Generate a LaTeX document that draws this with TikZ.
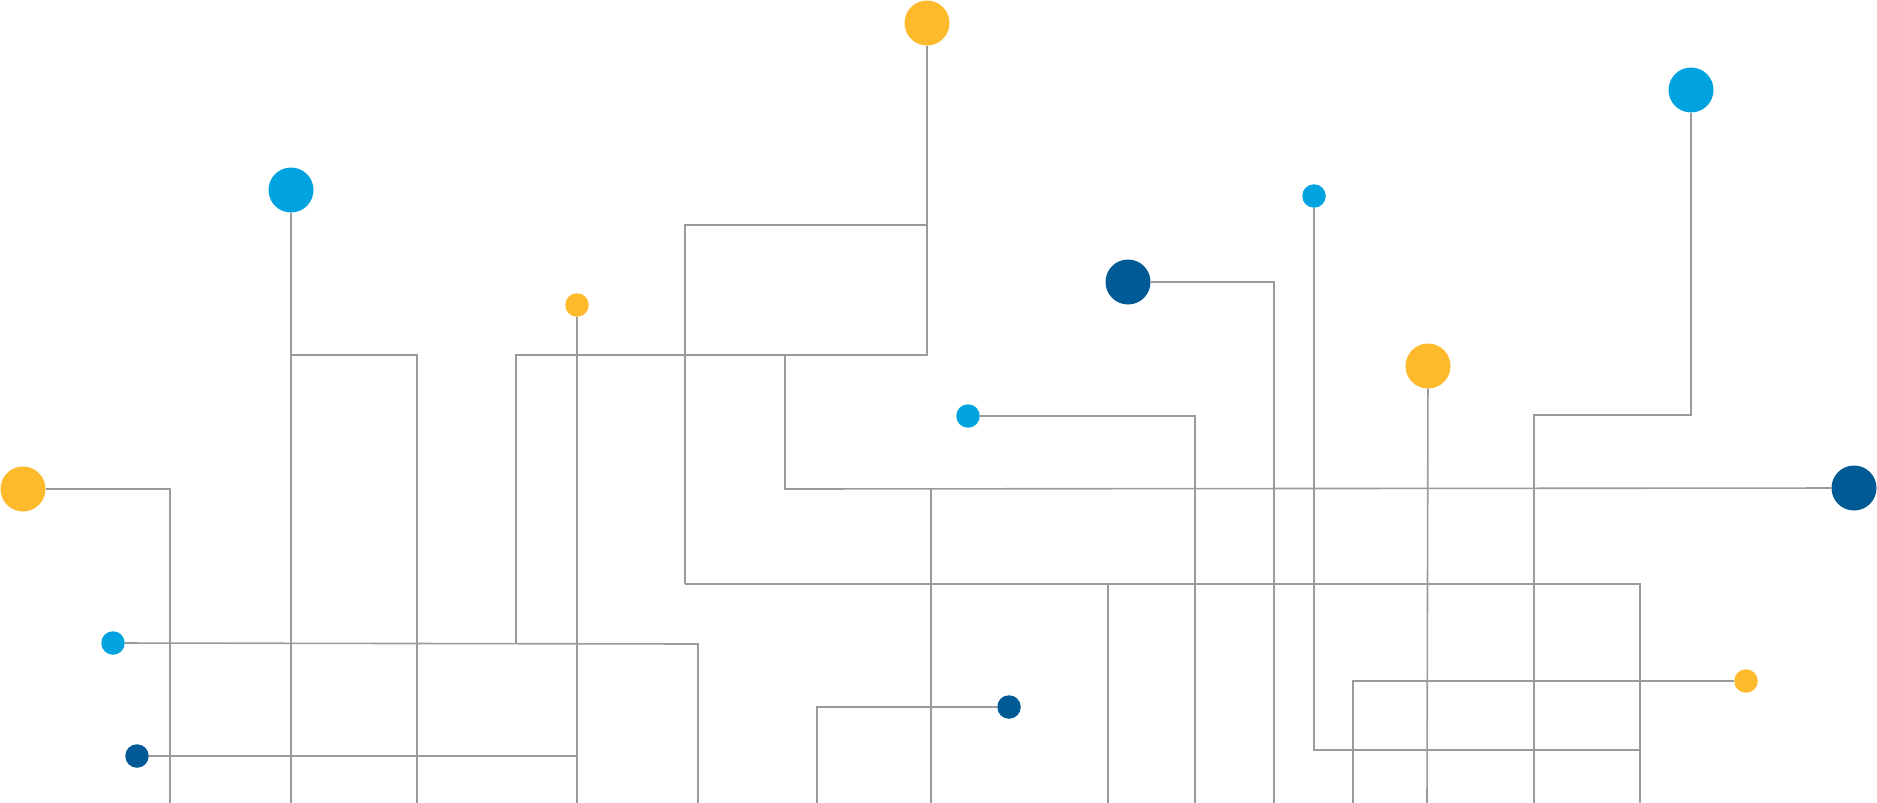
\documentclass[tikz,border=0pt]{standalone}
\definecolor{ylw}{HTML}{FDBA2C}
\definecolor{cyn}{HTML}{00A3DF}
\definecolor{navy}{HTML}{005A96}
\definecolor{wirec}{HTML}{9B9B9B}
\begin{document}
\begin{tikzpicture}[x=1pt,y=-1pt,
  wire/.style={draw=wirec, line width=1.6pt},
  bigdot/.style={circle, inner sep=0pt, minimum size=45pt, draw=none},
  smalldot/.style={circle, inner sep=0pt, minimum size=23.5pt, draw=none}]
\useasboundingbox[fill=white] (0,0) rectangle (1877,803);

% dots
\node[bigdot, fill=ylw]  (yA) at (927,23) {};
\node[bigdot, fill=cyn]  (cB) at (291,190) {};
\node[bigdot, fill=cyn]  (cC) at (1691,90) {};
\node[smalldot, fill=cyn] (cD) at (1314,196) {};
\node[bigdot, fill=navy] (bE) at (1128,282) {};
\node[smalldot, fill=ylw] (yF) at (577,305) {};
\node[bigdot, fill=ylw]  (yG) at (1428,366) {};
\node[smalldot, fill=cyn] (cH) at (968,416) {};
\node[bigdot, fill=ylw]  (yI) at (23,489) {};
\node[bigdot, fill=navy] (bJ) at (1854,488) {};
\node[smalldot, fill=cyn] (cK) at (113,643) {};
\node[smalldot, fill=navy] (bL) at (137,756) {};
\node[smalldot, fill=navy] (bM) at (1009,707) {};
\node[smalldot, fill=ylw] (yN) at (1746,681) {};

% junction coordinates
\coordinate (a1) at (927,355);
\coordinate (a2) at (516,355);
\coordinate (a3) at (516,644);
\coordinate (r1) at (685,584);
\coordinate (r2) at (685,225);
\coordinate (r3) at (927,225);
\coordinate (r4) at (1640,584);
\coordinate (r5) at (1640,803);
\coordinate (h1) at (785,355);
\coordinate (h2) at (785,489);
\coordinate (v1) at (931,489);
\coordinate (v2) at (931,803);
\coordinate (cBb) at (291,803);
\coordinate (s1) at (291,355);
\coordinate (s2) at (417,355);
\coordinate (s3) at (417,803);
\coordinate (yFb) at (577,803);
\coordinate (k1) at (698,644);
\coordinate (k2) at (698,803);
\coordinate (l1) at (577,756);
\coordinate (i1) at (170,489);
\coordinate (i2) at (170,803);
\coordinate (m1) at (817,707);
\coordinate (m2) at (817,803);
\coordinate (t1) at (1195,416);
\coordinate (t2) at (1195,803);
\coordinate (e1) at (1274,282);
\coordinate (e2) at (1274,803);
\coordinate (d1) at (1314,750);
\coordinate (d2) at (1640,750);
\coordinate (g1) at (1427,803);
\coordinate (c1) at (1691,415);
\coordinate (c2) at (1534,415);
\coordinate (c3) at (1534,803);
\coordinate (n1) at (1353,681);
\coordinate (n2) at (1353,803);
\coordinate (q1) at (1108,584);
\coordinate (q2) at (1108,803);

% wires
\draw[wire] (yA) -- (a1) -- (a2) -- (a3);
\draw[wire] (r1) -- (r2) -- (r3);
\draw[wire] (r1) -- (r4) -- (r5);
\draw[wire] (h1) -- (h2) -- (bJ);
\draw[wire] (v1) -- (v2);
\draw[wire] (cB) -- (cBb);
\draw[wire] (s1) -- (s2) -- (s3);
\draw[wire] (yF) -- (yFb);
\draw[wire] (cK) -- (k1) -- (k2);
\draw[wire] (bL) -- (l1);
\draw[wire] (yI) -- (i1) -- (i2);
\draw[wire] (bM) -- (m1) -- (m2);
\draw[wire] (cH) -- (t1) -- (t2);
\draw[wire] (bE) -- (e1) -- (e2);
\draw[wire] (cD) -- (d1) -- (d2);
\draw[wire] (yG) -- (g1);
\draw[wire] (cC) -- (c1) -- (c2) -- (c3);
\draw[wire] (yN) -- (n1) -- (n2);
\draw[wire] (q1) -- (q2);
\end{tikzpicture}
\end{document}
